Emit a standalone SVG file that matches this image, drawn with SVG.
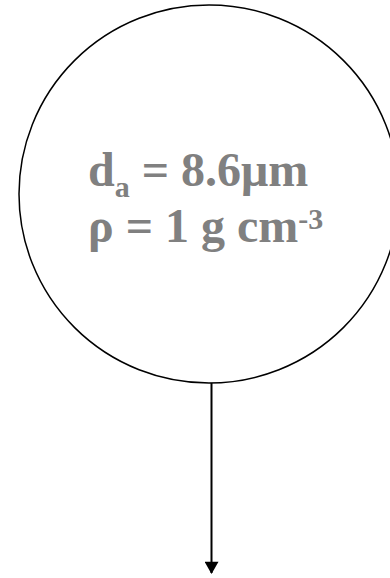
<svg xmlns="http://www.w3.org/2000/svg" width="390" height="578" viewBox="0 0 390 578">
<style>
.t{font-family:"Liberation Serif","Times New Roman",serif;font-weight:bold;fill:#808080;font-size:48px}
.s{font-size:30px}
</style>
<defs>
<marker id="ah" markerWidth="16" markerHeight="14" refX="13" refY="8" orient="auto" markerUnits="userSpaceOnUse" viewBox="0 0 14 16">
<path d="M0,0 L14,8 L0,16 Z" fill="#000"/>
</marker>
</defs>
<g id="particle">
<ellipse cx="209" cy="194" rx="190" ry="189" fill="none" stroke="#000" stroke-width="1.5"/>
<text class="t" x="88" y="186">d<tspan class="s" dy="11">a</tspan><tspan dy="-11"> = 8.6μm</tspan></text>
<text class="t" x="88" y="242">ρ = 1 g cm<tspan class="s" dy="-13">-3</tspan></text>
</g>
<g id="connectors">
<line x1="211.5" y1="383" x2="211.5" y2="573" stroke="#000" stroke-width="2" marker-end="url(#ah)"/>
</g>
</svg>
